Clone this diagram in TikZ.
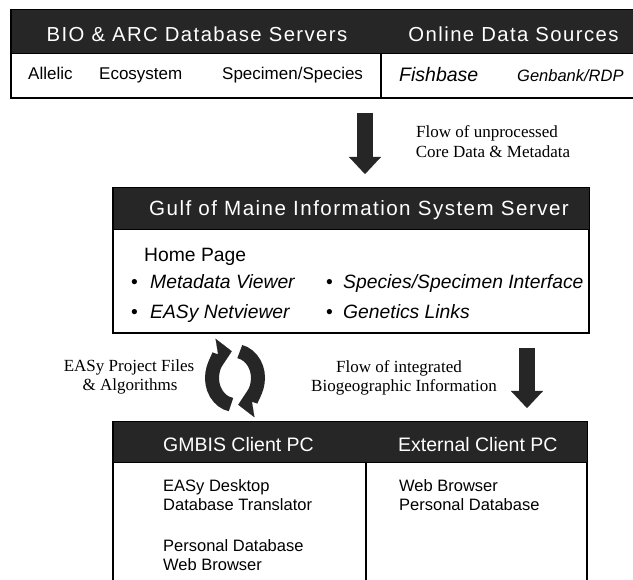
\documentclass[tikz,border=0pt]{standalone}
\usepackage{fontspec}
\setmainfont{Liberation Sans}
\newfontfamily\serifA{Liberation Serif}
\newfontfamily\hdfont[LetterSpace=7]{Liberation Sans}
\usetikzlibrary{arrows.meta}
\definecolor{darkband}{HTML}{262626}
\begin{document}
\begin{tikzpicture}[x=1pt,y=-1pt,
  panel/.style={draw=black, line width=1.1pt, fill=white, inner sep=0, outer sep=0, anchor=north west},
  band/.style={draw=black, line width=1pt, fill=darkband, inner sep=0, outer sep=0, anchor=north west},
  hdtxt/.style={text=white, anchor=base, inner sep=0, font=\hdfont\fontsize{20.3}{22}\selectfont},
  hdplain/.style={text=white, anchor=base west, inner sep=0, font=\fontsize{19.5}{22}\selectfont},
  bodytxt/.style={anchor=base west, inner sep=0, font=\fontsize{17}{20}\selectfont},
  gtxt/.style={anchor=base west, inner sep=0, font=\fontsize{19.3}{22}\selectfont},
  gitxt/.style={anchor=base west, inner sep=0, font=\itshape\fontsize{19.3}{22}\selectfont},
  ctxt/.style={anchor=base west, inner sep=0, font=\fontsize{16.5}{20}\selectfont},
  serlbl/.style={anchor=base, inner sep=0, font=\serifA\fontsize{17}{20}\selectfont},
  divider/.style={draw=black, line width=1.1pt},
  bigarrow/.style={draw=darkband, line width=16pt, -{Triangle[width=32pt,length=17pt,line width=0.1pt]}},
  cycarrow/.style={draw=darkband, line width=14pt, -{Triangle[width=30pt,length=14pt,line width=0.1pt]}}
]
\useasboundingbox (0,0) rectangle (633,580);
\clip (0,0) rectangle (633,580);

% ---------- top box ----------
\node[panel, minimum width=626pt, minimum height=88pt] (topbox) at (11,10) {};
\node[band, minimum width=626pt, minimum height=44pt] (topH) at (11,10) {};
\coordinate (d1a) at (381,54);
\coordinate (d1b) at (381,98);
\draw[divider] (d1a) -- (d1b);
\node[hdtxt] (bioarc) at (197,41.5) {BIO \& ARC Database Servers};
\node[hdtxt] (online) at (513.5,41.5) {Online Data Sources};
\node[bodytxt] (allelic) at (28,80) {Allelic};
\node[bodytxt] (eco) at (99,80) {Ecosystem};
\node[bodytxt] (spec) at (222,80) {Specimen/Species};
\node[bodytxt, font=\itshape\fontsize{19.5}{22}\selectfont] (fish) at (399,81.5) {Fishbase};
\node[bodytxt, font=\itshape\fontsize{16.5}{20}\selectfont] (gen) at (517,81.5) {Genbank/RDP};

% ---------- arrow 1 ----------
\coordinate (a1s) at (365,113);
\coordinate (a1e) at (365,174);
\draw[bigarrow] (a1s) -- (a1e);
\node[serlbl] (flow1a) at (487,138) {Flow of unprocessed};
\node[serlbl] (flow1b) at (493,158) {Core Data \& Metadata};

% ---------- GMIS server ----------
\node[panel, minimum width=476pt, minimum height=145pt] (gmis) at (113,188) {};
\node[band, minimum width=476pt, minimum height=42pt] (gmisH) at (113,188) {};
\node[hdtxt, font=\hdfont\fontsize{20.6}{22}\selectfont] (gtitle) at (359,216) {Gulf of Maine Information System Server};
\node[gtxt] (home) at (144,262) {Home Page};
\node[gtxt] (bu1) at (131,289) {\textbullet};
\node[gitxt] (meta) at (150,289) {Metadata Viewer};
\node[gtxt] (bu2) at (131,319) {\textbullet};
\node[gitxt] (netv) at (150,319) {EASy Netviewer};
\node[gtxt] (bu3) at (326,289) {\textbullet};
\node[gitxt] (specint) at (343,289) {Species/Specimen Interface};
\node[gtxt] (bu4) at (326,319) {\textbullet};
\node[gitxt] (genet) at (343,319) {Genetics Links};

% ---------- cycle arrows ----------
\coordinate (cyc) at (235,378);
\draw[cycarrow] ([shift={(100:23 and 27)}]cyc) arc[start angle=100, end angle=262, x radius=23, y radius=27];
\draw[cycarrow] ([shift={(282:23 and 27)}]cyc) arc[start angle=282, end angle=442, x radius=23, y radius=27];
\node[serlbl] (easy1) at (129,372) {EASy Project Files};
\node[serlbl] (easy2) at (130,391) {\& Algorithms};

% ---------- arrow 2 ----------
\coordinate (a2s) at (527,348);
\coordinate (a2e) at (527,408);
\draw[bigarrow] (a2s) -- (a2e);
\node[serlbl] (flow2a) at (399,373) {Flow of integrated};
\node[serlbl] (flow2b) at (404,392) {Biogeographic Information};

% ---------- client PCs ----------
\node[panel, minimum width=474pt, minimum height=170pt] (client) at (113,422) {};
\node[band, minimum width=474pt, minimum height=41pt] (clientH) at (113,422) {};
\coordinate (d2a) at (366,463);
\coordinate (d2b) at (366,590);
\draw[divider] (d2a) -- (d2b);
\node[hdplain] (gmbis) at (163,452) {GMBIS Client PC};
\node[hdplain] (ext) at (398,452) {External Client PC};
\node[ctxt] (c1) at (163,492) {EASy Desktop};
\node[ctxt] (c2) at (163,511) {Database Translator};
\node[ctxt] (c3) at (163,551) {Personal Database};
\node[ctxt] (c4) at (163,570) {Web Browser};
\node[ctxt] (e1) at (399,492) {Web Browser};
\node[ctxt] (e2) at (399,511) {Personal Database};
\end{tikzpicture}
\end{document}
